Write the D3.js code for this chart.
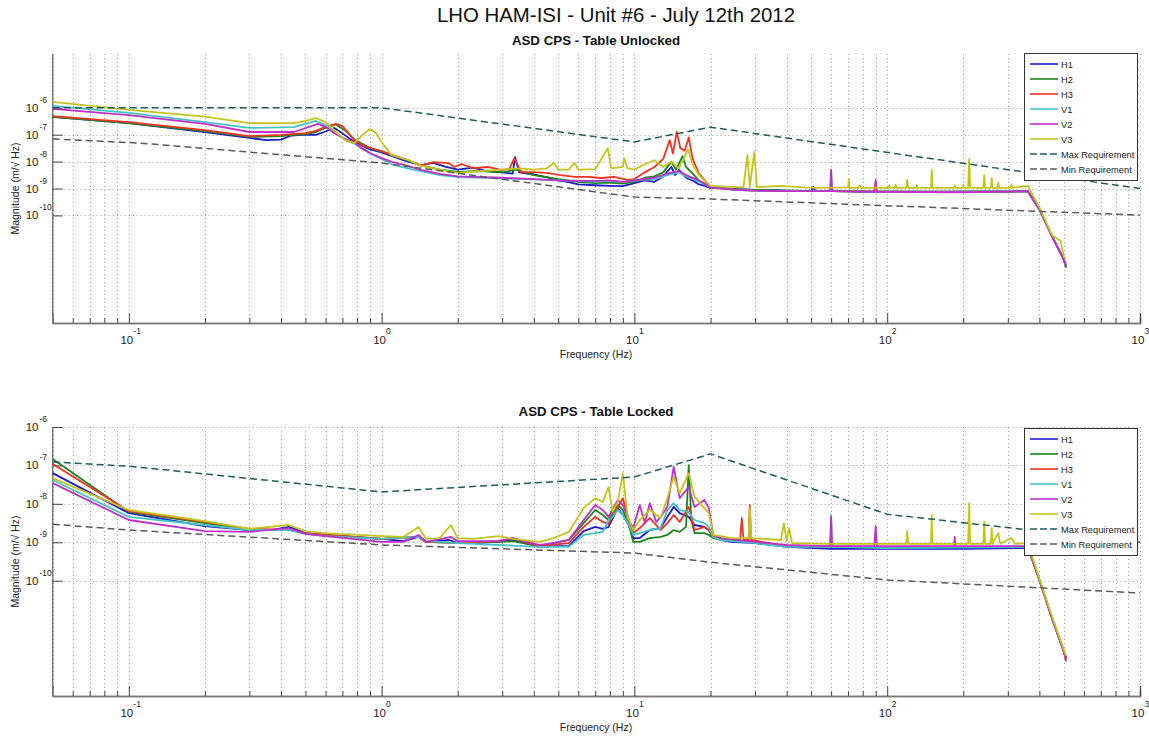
<!DOCTYPE html>
<html>
<head>
<meta charset="utf-8">
<script src="https://cdn.jsdelivr.net/npm/d3@7"></script>
<style>
  body { margin: 0; background: #ffffff; }
  svg { display: block; font-family: "Liberation Sans", Arial, Helvetica, sans-serif; }
</style>
</head>
<body>
<svg id="chart" width="1149" height="736"></svg>
<script>
// ---------------------------------------------------------------
// Capacitive position sensor ASD, HAM-ISI unit #6.
// Each trace is a list of [frequency (Hz), log10 magnitude (m/√Hz)].
// ---------------------------------------------------------------

const seriesNames = ["H1", "H2", "H3", "V1", "V2", "V3"];
const requirementNames = ["Max Requirement", "Min Requirement"];
const xTickExponents = [-1, 0, 1, 2, 3];
const yTickExponents = [-6, -7, -8, -9, -10];

// ---- Table unlocked ----
const unlockedH1 = [[0.05,-6.34],[0.1,-6.57],[0.2,-6.90],[0.3,-7.12],[0.35,-7.20],[0.4,-7.18],[0.44,-7.03],[0.5,-7.00],[0.55,-7.01],[0.6,-6.88],[0.65,-6.75],[0.7,-6.95],[0.78,-7.27],[0.9,-7.55],[1.0,-7.66],[1.1,-7.80],[1.27,-8.00],[1.43,-8.13],[1.6,-8.05],[1.8,-8.20],[2.0,-8.30],[2.3,-8.22],[2.6,-8.35],[3.0,-8.40],[3.3,-8.45],[3.37,-7.83],[3.5,-8.40],[4.0,-8.48],[4.5,-8.58],[5.0,-8.70],[5.5,-8.76],[6.0,-8.85],[7.0,-8.88],[8.0,-8.90],[9.0,-8.91],[10,-8.80],[11,-8.70],[12,-8.75],[13,-8.55],[14,-8.20],[14.5,-8.50],[15,-8.30],[16,-8.60],[17,-8.70],[18,-8.85],[19,-8.90],[20,-8.98],[25,-9.02],[30,-9.05],[40,-9.08],[50,-9.10],[51,-8.94],[52,-9.10],[60,-9.08],[80,-9.12],[100,-9.12],[150,-9.13],[200,-9.12],[300,-9.12],[360,-9.10],[400,-9.78],[450,-10.80],[500,-11.65],[510,-11.90]];
const unlockedH2 = [[0.05,-6.34],[0.1,-6.57],[0.2,-6.87],[0.3,-7.08],[0.4,-7.05],[0.5,-6.98],[0.55,-6.90],[0.6,-6.75],[0.66,-6.62],[0.72,-6.85],[0.78,-7.18],[0.9,-7.50],[1.0,-7.62],[1.1,-7.76],[1.27,-7.96],[1.43,-8.14],[1.7,-8.30],[2.0,-8.38],[2.5,-8.35],[3.0,-8.40],[3.4,-8.30],[4.0,-8.50],[5.0,-8.65],[6.0,-8.75],[7.0,-8.80],[8.0,-8.78],[9.0,-8.82],[10,-8.75],[11,-8.60],[12,-8.55],[13,-8.40],[14,-8.00],[14.6,-8.30],[15.5,-7.80],[16,-8.20],[17,-8.45],[18,-8.70],[20,-8.95],[25,-9.02],[30,-9.05],[40,-9.08],[60,-9.10],[100,-9.12],[200,-9.12],[360,-9.10],[400,-9.78],[450,-10.80],[500,-11.65],[510,-11.95]];
const unlockedH3 = [[0.05,-6.31],[0.1,-6.53],[0.2,-6.83],[0.3,-7.05],[0.4,-7.01],[0.5,-6.94],[0.55,-6.86],[0.6,-6.71],[0.66,-6.60],[0.7,-6.68],[0.78,-7.20],[0.83,-7.38],[0.9,-7.49],[1.0,-7.61],[1.1,-7.75],[1.27,-7.94],[1.43,-8.15],[1.6,-8.02],[1.84,-8.06],[1.94,-8.20],[2.07,-8.09],[2.3,-8.24],[2.63,-8.20],[2.96,-8.31],[3.2,-8.28],[3.35,-7.87],[3.56,-8.39],[4.0,-8.39],[4.5,-8.42],[5.1,-8.50],[5.8,-8.57],[6.6,-8.57],[7.4,-8.61],[8.3,-8.57],[9.4,-8.68],[10,-8.65],[11,-8.40],[12,-8.20],[13,-7.90],[13.8,-7.20],[14.2,-7.70],[14.7,-6.90],[15.2,-7.50],[15.8,-7.60],[16.4,-7.10],[17,-7.90],[18,-8.45],[19,-8.70],[20,-8.95],[25,-9.05],[30,-9.08],[40,-9.10],[60,-9.10],[100,-9.12],[200,-9.12],[360,-9.10],[400,-9.78],[450,-10.80],[500,-11.65],[510,-11.80]];
const unlockedV1 = [[0.05,-5.93],[0.1,-6.19],[0.2,-6.53],[0.3,-6.75],[0.45,-6.72],[0.55,-6.49],[0.6,-6.64],[0.66,-6.94],[0.72,-7.20],[0.78,-7.33],[0.83,-7.50],[0.9,-7.70],[1.0,-7.90],[1.1,-8.10],[1.27,-8.25],[1.43,-8.35],[1.7,-8.50],[2.0,-8.58],[3.0,-8.62],[4.0,-8.66],[5.0,-8.70],[6.0,-8.72],[7.0,-8.75],[8.0,-8.72],[9.0,-8.75],[10,-8.70],[12,-8.65],[13.5,-8.50],[15,-8.40],[16,-8.55],[18,-8.75],[20,-8.95],[25,-9.05],[30,-9.08],[40,-9.10],[59.5,-9.10],[60,-8.35],[60.5,-9.10],[100,-9.12],[200,-9.12],[360,-9.10],[400,-9.78],[450,-10.80],[500,-11.65],[510,-11.85]];
const unlockedV2 = [[0.05,-6.04],[0.1,-6.27],[0.2,-6.60],[0.3,-6.90],[0.45,-6.90],[0.56,-6.60],[0.6,-6.71],[0.66,-6.98],[0.72,-7.16],[0.78,-7.27],[0.83,-7.49],[0.9,-7.68],[1.0,-7.87],[1.1,-8.01],[1.27,-8.16],[1.43,-8.31],[1.7,-8.46],[2.0,-8.55],[3.0,-8.60],[4.0,-8.65],[5.0,-8.70],[6.0,-8.72],[7.0,-8.72],[8.0,-8.70],[9.0,-8.75],[10,-8.70],[12,-8.60],[13.5,-8.45],[15,-8.35],[16,-8.50],[18,-8.70],[20,-8.95],[25,-9.05],[30,-9.08],[40,-9.10],[59.5,-9.10],[60,-8.30],[60.5,-9.10],[89,-9.12],[90,-8.68],[91,-9.12],[200,-9.14],[360,-9.10],[400,-9.78],[450,-10.80],[500,-11.65],[510,-11.90]];
const unlockedV3 = [[0.05,-5.78],[0.1,-6.08],[0.2,-6.33],[0.3,-6.57],[0.45,-6.57],[0.5,-6.49],[0.55,-6.38],[0.6,-6.53],[0.66,-6.90],[0.72,-7.20],[0.78,-7.31],[0.83,-7.05],[0.9,-6.79],[0.95,-6.94],[1.0,-7.27],[1.09,-7.75],[1.27,-7.94],[1.43,-8.15],[1.7,-8.30],[2.0,-8.42],[2.5,-8.35],[3.0,-8.30],[3.5,-8.25],[4.0,-8.30],[4.5,-8.25],[4.8,-8.05],[5.0,-8.30],[5.5,-8.30],[5.8,-8.05],[6.0,-8.30],[7.0,-8.28],[7.85,-7.50],[8.1,-8.25],[9.0,-8.20],[9.1,-7.87],[9.4,-8.25],[10,-8.30],[11,-8.10],[12,-7.95],[13,-8.20],[14,-8.00],[15,-8.25],[16.3,-7.55],[17,-8.10],[18,-8.50],[20,-8.90],[25,-8.95],[27,-8.95],[28,-7.75],[28.6,-8.95],[29.8,-7.64],[30.5,-8.95],[38,-8.90],[50,-8.98],[70,-8.96],[70.5,-8.65],[71,-8.98],[77,-8.98],[78,-8.88],[79,-8.98],[101,-8.98],[102,-8.88],[103,-8.98],[107,-8.98],[108,-8.86],[109,-8.98],[119,-8.98],[120,-8.68],[121,-8.98],[130,-8.98],[131,-8.88],[132,-8.98],[149,-8.98],[150,-8.31],[151,-8.98],[184,-8.98],[185,-8.88],[186,-8.98],[199,-8.98],[200,-8.86],[201,-8.98],[209,-8.98],[211,-7.90],[213,-8.98],[240,-8.98],[242,-8.50],[244,-8.98],[257,-8.98],[259,-8.61],[261,-8.98],[273,-8.98],[275,-8.78],[277,-8.98],[308,-8.98],[310,-8.85],[312,-8.98],[360,-8.90],[400,-9.70],[450,-10.75],[485,-10.94],[500,-11.55],[510,-11.58]];
const unlockedMaxReq = [[0.05,-6.0],[1,-6.0],[10,-7.27],[20,-6.72],[1000,-9.0]];
const unlockedMinReq = [[0.05,-7.16],[0.11,-7.31],[1,-8.05],[10,-9.32],[20,-9.39],[40,-9.50],[1000,-9.99]];

// ---- Table locked ----
const lockedH1 = [[0.05,-7.20],[0.1,-8.24],[0.2,-8.58],[0.3,-8.68],[0.37,-8.68],[0.43,-8.60],[0.5,-8.76],[0.6,-8.81],[1.0,-8.91],[1.22,-8.97],[1.4,-8.86],[1.5,-8.99],[1.85,-8.94],[2.0,-9.02],[2.3,-9.02],[2.9,-8.99],[3.3,-8.94],[4.2,-9.12],[4.8,-9.10],[5.5,-9.10],[6.3,-8.71],[7.0,-8.60],[7.5,-8.65],[7.9,-8.60],[8.6,-8.11],[9.0,-8.29],[9.5,-8.55],[9.9,-8.89],[10.5,-8.89],[11.5,-8.68],[12.7,-8.63],[13.5,-8.34],[14.3,-8.08],[15.1,-8.24],[16.4,-8.34],[17.3,-8.55],[18.9,-8.60],[19.7,-8.68],[20.5,-8.86],[22,-8.94],[24,-8.99],[30,-9.02],[40,-9.12],[60,-9.17],[100,-9.17],[200,-9.17],[360,-9.15],[400,-9.98],[450,-11.0],[500,-11.85],[510,-12.05]];
const lockedH2 = [[0.05,-6.83],[0.1,-8.21],[0.2,-8.50],[0.3,-8.68],[0.43,-8.68],[0.5,-8.76],[0.6,-8.81],[1.0,-8.91],[1.4,-8.86],[1.5,-8.99],[2.0,-9.02],[2.9,-8.99],[3.3,-8.97],[4.2,-9.10],[5.5,-8.94],[6.3,-8.50],[7.0,-8.16],[7.5,-8.29],[7.9,-8.42],[8.6,-8.03],[9.0,-8.16],[9.5,-8.55],[9.9,-8.99],[10.5,-8.99],[11.5,-8.89],[12.7,-8.86],[13.5,-8.81],[14.3,-8.68],[15.1,-8.73],[16.0,-8.60],[16.4,-6.99],[16.8,-8.42],[17.3,-8.76],[18.9,-8.76],[19.7,-8.81],[20.5,-8.89],[22,-8.94],[30,-8.99],[40,-9.10],[100,-9.12],[360,-9.12],[400,-9.98],[450,-11.0],[500,-11.85],[510,-12.0]];
const lockedH3 = [[0.05,-6.96],[0.1,-8.19],[0.2,-8.47],[0.3,-8.65],[0.43,-8.68],[0.5,-8.76],[0.6,-8.81],[1.0,-8.91],[1.4,-8.86],[1.5,-8.99],[2.0,-9.02],[2.9,-8.97],[3.3,-8.89],[4.2,-9.10],[5.5,-9.02],[6.3,-8.60],[7.0,-8.34],[7.5,-8.47],[7.9,-8.52],[8.6,-8.08],[9.0,-7.85],[9.5,-8.42],[9.9,-8.76],[10.5,-8.63],[11.5,-8.37],[12.7,-8.68],[13.5,-8.50],[14.3,-8.29],[15.1,-8.47],[16.4,-8.08],[17.3,-8.68],[18.9,-8.60],[19.7,-8.68],[20.5,-8.86],[22,-8.91],[26.2,-8.94],[26.6,-8.37],[27,-8.94],[28.3,-8.94],[28.6,-8.03],[29,-8.94],[40,-9.10],[100,-9.12],[360,-9.12],[400,-9.98],[450,-11.0],[500,-11.85],[510,-12.10]];
const lockedV1 = [[0.05,-7.38],[0.1,-8.34],[0.2,-8.55],[0.3,-8.68],[0.43,-8.68],[0.5,-8.78],[0.6,-8.84],[1.0,-8.91],[1.4,-8.86],[1.5,-8.97],[2.0,-9.02],[4.2,-9.12],[5.5,-9.12],[6.3,-8.81],[7.0,-8.76],[7.5,-8.73],[7.9,-8.42],[8.2,-8.34],[8.6,-8.16],[9.0,-8.29],[9.5,-8.55],[9.9,-8.81],[10.5,-8.76],[11.5,-8.68],[12.7,-8.63],[13.5,-8.16],[14.3,-7.98],[15.1,-8.16],[16.4,-8.21],[17.3,-8.42],[18.9,-8.50],[19.7,-8.60],[20.5,-8.86],[22,-8.94],[30,-9.02],[40,-9.12],[59.5,-9.12],[60,-8.29],[60.5,-9.12],[100,-9.15],[360,-9.12],[400,-9.98],[450,-11.0],[500,-11.85],[510,-11.98]];
const lockedV2 = [[0.05,-7.46],[0.1,-8.42],[0.2,-8.71],[0.3,-8.73],[0.43,-8.63],[0.5,-8.78],[0.6,-8.84],[1.0,-8.99],[1.22,-8.99],[1.4,-8.81],[1.5,-8.99],[1.88,-8.86],[2.0,-8.97],[2.9,-8.97],[3.3,-8.89],[4.2,-9.07],[4.8,-9.02],[5.5,-8.94],[6.3,-8.42],[7.0,-8.03],[7.5,-8.16],[7.9,-8.34],[8.6,-7.90],[9.0,-8.03],[9.5,-8.42],[9.9,-8.63],[10.5,-8.03],[11,-8.50],[11.5,-7.98],[12.2,-8.47],[12.7,-8.34],[13.5,-8.08],[14.3,-7.04],[15.1,-7.85],[16.4,-7.56],[17.3,-8.08],[18.9,-7.90],[19.7,-8.11],[20.5,-8.81],[22,-8.89],[30,-8.99],[40,-9.07],[59.5,-9.10],[60,-8.34],[60.5,-9.10],[89,-9.10],[90,-8.58],[91,-9.10],[184,-9.10],[185,-8.86],[186,-9.10],[360,-9.10],[400,-9.98],[450,-11.0],[500,-11.85],[510,-12.0]];
const lockedV3 = [[0.05,-7.33],[0.1,-8.16],[0.2,-8.45],[0.3,-8.65],[0.43,-8.55],[0.5,-8.71],[0.6,-8.76],[1.0,-8.84],[1.22,-8.86],[1.4,-8.60],[1.5,-8.91],[1.7,-8.89],[1.88,-8.55],[2.0,-8.89],[2.3,-8.91],[2.9,-8.84],[3.3,-8.91],[4.2,-8.99],[4.8,-8.89],[5.5,-8.73],[6.3,-8.11],[7.0,-7.85],[7.5,-7.95],[7.9,-7.56],[8.2,-8.21],[8.6,-7.95],[9.0,-7.20],[9.4,-8.34],[9.9,-8.68],[10.5,-8.42],[11.5,-8.16],[12.7,-8.37],[13.5,-7.85],[14.3,-7.30],[15.1,-7.72],[16.4,-7.20],[17.3,-7.82],[18.9,-8.11],[19.7,-8.24],[20.5,-8.81],[22,-8.84],[24,-8.89],[28.3,-8.89],[28.6,-8.10],[29,-8.89],[38,-8.94],[39,-8.50],[40,-8.97],[41,-8.63],[42,-9.02],[60,-9.04],[119,-9.04],[120,-8.71],[121,-9.04],[149,-9.04],[150,-8.29],[151,-9.04],[209,-9.04],[211,-7.98],[213,-9.04],[240,-9.04],[242,-8.47],[244,-9.04],[257,-9.04],[259,-8.63],[261,-9.04],[275,-8.76],[280,-9.04],[310,-8.89],[320,-9.04],[360,-9.02],[400,-9.95],[450,-10.95],[500,-11.80],[510,-11.95]];
const lockedMaxReq = [[0.05,-6.91],[0.1,-7.02],[1,-7.69],[10,-7.30],[20,-6.70],[100,-8.27],[1000,-9.0]];
const lockedMinReq = [[0.05,-8.53],[0.1,-8.68],[1,-9.07],[10,-9.28],[20,-9.52],[100,-9.98],[1000,-10.32]];

// ---------------------------------------------------------------
// Styling
// ---------------------------------------------------------------
const seriesColors = ["#1a1ad0", "#1a861a", "#ee3322", "#44c4c4", "#c030c8", "#c4c41c"];
const requirementColors = ["#1f5c5c", "#5a5a5a"];

const svg = d3.select("#chart");
const plotLeft = 52.7, plotRight = 1140;
const x = d3.scaleLog().domain([0.05, 1000]).range([plotLeft, plotRight]);

// minor tick positions: 2..9 within every decade, clipped to the domain
const minorTicks = [];
for (let e = -2; e <= 2; e++) {
  for (let m = 2; m <= 9; m++) {
    const v = m * Math.pow(10, e);
    if (v >= 0.05 && v <= 1000) minorTicks.push(v);
  }
}
const majorTicks = xTickExponents.map(e => Math.pow(10, e));

svg.append("text")
  .attr("x", 616).attr("y", 22)
  .attr("text-anchor", "middle")
  .attr("font-size", 20.4)
  .attr("fill", "#111")
  .text("LHO HAM-ISI - Unit #6 - July 12th 2012");

function drawPanel(cfg) {
  const y = d3.scaleLog().domain(cfg.yDomain).range([cfg.bottom, cfg.top]);
  const g = svg.append("g");
  const toPoint = d => [x(d[0]), y(Math.pow(10, d[1]))];

  // dotted grid
  const grid = g.append("g").attr("stroke", "#9a9a9a").attr("stroke-width", 1)
    .attr("stroke-dasharray", "1,3");
  grid.selectAll("line.vx").data(minorTicks.concat(majorTicks)).join("line")
    .attr("x1", d => Math.round(x(d)) + 0.5).attr("x2", d => Math.round(x(d)) + 0.5)
    .attr("y1", cfg.top).attr("y2", cfg.bottom);
  grid.selectAll("line.hy").data(yTickExponents).join("line")
    .attr("x1", plotLeft).attr("x2", plotRight)
    .attr("y1", d => Math.round(y(Math.pow(10, d))) + 0.5)
    .attr("y2", d => Math.round(y(Math.pow(10, d))) + 0.5);

  // x axis (ticks inward)
  const xAxisMajor = d3.axisBottom(x).tickValues(majorTicks).tickSize(-10).tickFormat("");
  const xAxisMinor = d3.axisBottom(x).tickValues(minorTicks).tickSize(-5).tickFormat("");
  const gxMinor = g.append("g").attr("transform", `translate(0,${cfg.bottom})`).call(xAxisMinor);
  const gx = g.append("g").attr("transform", `translate(0,${cfg.bottom})`).call(xAxisMajor);
  [gx, gxMinor].forEach(a => {
    a.select(".domain").attr("stroke", "#7a7a7a").attr("stroke-width", 1.5);
    a.selectAll(".tick line").attr("stroke", "#444");
  });

  // y axis (ticks inward)
  const yAxis = d3.axisLeft(y).tickValues(yTickExponents.map(e => Math.pow(10, e)))
    .tickSize(-10).tickFormat("");
  const gy = g.append("g").attr("transform", `translate(${plotLeft},0)`).call(yAxis);
  gy.select(".domain").attr("stroke", "#7a7a7a").attr("stroke-width", 1.5)
    .attr("d", `M0,${cfg.top}V${cfg.bottom}`);
  gy.selectAll(".tick line").attr("stroke", "#444");

  // tick labels as 10 with superscript exponent
  const xl = g.append("g").attr("font-size", 11.5).attr("fill", "#222");
  xTickExponents.forEach(e => {
    const px = x(Math.pow(10, e));
    xl.append("text").attr("x", px - 2).attr("y", cfg.bottom + 21)
      .attr("text-anchor", "middle").text("10");
    xl.append("text").attr("x", px + 4.5).attr("y", cfg.bottom + 11)
      .attr("font-size", 8.5).text(String(e));
  });
  const yl = g.append("g").attr("font-size", 11.5).attr("fill", "#222");
  yTickExponents.forEach(e => {
    const py = y(Math.pow(10, e));
    yl.append("text").attr("x", 38.5).attr("y", py + 4)
      .attr("text-anchor", "end").text("10");
    yl.append("text").attr("x", 39.5).attr("y", py - 5)
      .attr("font-size", 8.5).text(String(e));
  });

  // panel title and axis labels
  g.append("text").attr("x", 596).attr("y", cfg.titleY)
    .attr("text-anchor", "middle").attr("font-size", 13.3)
    .attr("font-weight", "bold").attr("fill", "#111").text(cfg.title);
  g.append("text").attr("x", 596).attr("y", cfg.bottom + 35)
    .attr("text-anchor", "middle").attr("font-size", 10.5).attr("fill", "#222")
    .text("Frequency (Hz)");
  g.append("text")
    .attr("transform", `translate(19,${(cfg.top + cfg.bottom) / 2}) rotate(-90)`)
    .attr("text-anchor", "middle").attr("font-size", 10.5).attr("fill", "#222")
    .text("Magnitude (m/\u221A Hz)");

  // traces
  const line = d3.line().x(d => toPoint(d)[0]).y(d => toPoint(d)[1]);
  const traces = g.append("g").attr("fill", "none");
  cfg.series.forEach((s, i) => {
    traces.append("path").datum(s).attr("d", line)
      .attr("stroke", seriesColors[i]).attr("stroke-width", 1.8)
      .attr("stroke-linejoin", "round");
  });
  cfg.requirements.forEach((s, i) => {
    traces.append("path").datum(s).attr("d", line)
      .attr("stroke", requirementColors[i]).attr("stroke-width", 1.5)
      .attr("stroke-dasharray", "7,4");
  });

  // legend
  const lg = g.append("g").attr("transform", `translate(1024,${cfg.legendTop})`);
  lg.append("rect").attr("x", 0.5).attr("y", 0.5).attr("width", 113).attr("height", 127)
    .attr("fill", "#fff").attr("stroke", "#333").attr("stroke-width", 1);
  const labels = seriesNames.concat(requirementNames);
  labels.forEach((name, i) => {
    const ry = 11 + i * 15;
    const isReq = i >= seriesNames.length;
    lg.append("line").attr("x1", 6).attr("x2", 34).attr("y1", ry).attr("y2", ry)
      .attr("stroke", isReq ? requirementColors[i - seriesNames.length] : seriesColors[i])
      .attr("stroke-width", isReq ? 1.5 : 1.6)
      .attr("stroke-dasharray", isReq ? "7,3" : null);
    lg.append("text").attr("x", 37).attr("y", ry + 3.5)
      .attr("font-size", 9.3).attr("fill", "#222").text(name);
  });
}

drawPanel({
  title: "ASD CPS - Table Unlocked", titleY: 45,
  top: 54, bottom: 323, yDomain: [1e-14, 1e-4], legendTop: 53,
  series: [unlockedH1, unlockedH2, unlockedH3, unlockedV1, unlockedV2, unlockedV3],
  requirements: [unlockedMaxReq, unlockedMinReq]
});
drawPanel({
  title: "ASD CPS - Table Locked", titleY: 416,
  top: 427, bottom: 696, yDomain: [1e-13, 1e-6], legendTop: 428,
  series: [lockedH1, lockedH2, lockedH3, lockedV1, lockedV2, lockedV3],
  requirements: [lockedMaxReq, lockedMinReq]
});
</script>
</body>
</html>
